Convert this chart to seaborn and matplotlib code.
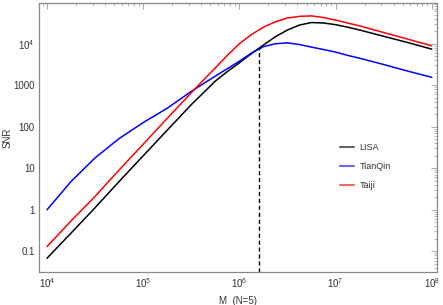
import matplotlib
matplotlib.use("Agg")
import matplotlib.pyplot as plt
import matplotlib.ticker as mticker
import seaborn as sns
import pandas as pd
import numpy as np

# values
mass = [1e4, 1.78e4, 3.16e4, 5.62e4, 1e5, 1.78e5, 3.16e5, 5.62e5,
        7.5e5, 1e6, 1.33e6, 1.78e6, 2.37e6, 3.16e6, 4.22e6, 5.62e6,
        7.5e6, 1e7, 1.33e7, 1.78e7, 3.16e7, 5.62e7, 1e8]
lisa = [0.068, 0.275, 1.12, 4.8, 20, 83, 340, 1260,
        2140, 3470, 5750, 9330, 14800, 21400, 28200, 32400,
        31600, 28800, 25100, 21400, 15100, 10700, 7400]
tianqin = [1.0, 4.8, 17.8, 52, 126, 280, 710, 1660,
           2510, 3800, 5900, 8500, 10000, 10500, 9550, 8300,
           7240, 6300, 5250, 4470, 3160, 2190, 1550]
taiji = [0.13, 0.54, 2.1, 9.1, 38, 160, 660, 2630,
         5250, 10000, 16600, 25100, 33900, 41700, 45700, 46800,
         42700, 37200, 31600, 26900, 18600, 12900, 8900]
detectors = ["LISA", "TianQin", "Taiji"]
colors = ["#000000", "#0000ff", "#ff0000"]

# marker for the LISA / TianQin crossing
cross_mass = 1.6e6
cross_snr = 8000

y_ticks = [0.1, 1, 10, 100, 1000, 1e4]
y_labels = ["0.1", "1", "10", "100", "1000", r"$10^4$"]
x_ticks = [1e4, 1e5, 1e6, 1e7, 1e8]
x_labels = [r"$10^4$", r"$10^5$", r"$10^6$", r"$10^7$", r"$10^8$"]

df = pd.DataFrame({
    "M": mass * 3,
    "SNR": lisa + tianqin + taiji,
    "detector": sum([[d] * len(mass) for d in detectors], []),
})

sns.set_style("white")
plt.rcParams["font.family"] = ["Liberation Sans", "DejaVu Sans"]
plt.rcParams["mathtext.fontset"] = "custom"
plt.rcParams["mathtext.rm"] = "Liberation Sans"
plt.rcParams["mathtext.it"] = "Liberation Sans"

fig = plt.figure(figsize=(4.43, 3.05), dpi=100)
ax = fig.add_axes([0.088, 0.108, 0.898, 0.882])

sns.lineplot(data=df, x="M", y="SNR", hue="detector", hue_order=detectors,
             palette=colors, linewidth=1.1, ax=ax, legend=False)
ax.vlines(cross_mass, 10 ** -1.5, cross_snr, colors="black",
          linestyles=(0, (3, 2)), linewidth=1.0)

ax.set_xscale("log")
ax.set_yscale("log")
ax.set_xlim(10 ** 3.917, 10 ** 8.052)
ax.set_ylim(10 ** -1.5, 10 ** 4.98)

ax.xaxis.set_major_locator(mticker.FixedLocator(x_ticks))
ax.xaxis.set_major_formatter(mticker.FixedFormatter(x_labels))
ax.yaxis.set_major_locator(mticker.FixedLocator(y_ticks))
ax.yaxis.set_major_formatter(mticker.FixedFormatter(y_labels))
ax.xaxis.set_minor_locator(mticker.LogLocator(base=10, subs=np.arange(2, 10)))
ax.yaxis.set_minor_locator(mticker.LogLocator(base=10, subs=np.arange(2, 10)))
ax.xaxis.set_minor_formatter(mticker.NullFormatter())
ax.yaxis.set_minor_formatter(mticker.NullFormatter())

frame = "#888888"
for s in ax.spines.values():
    s.set_color(frame)
    s.set_linewidth(0.9)
ax.tick_params(which="both", direction="in", top=True, right=True,
               color="#999999", labelsize=7, labelcolor="#333333", pad=3)
ax.tick_params(which="major", length=4, width=0.6)
ax.tick_params(which="minor", length=2, width=0.5)

ax.set_xlabel("M  (N=5)", fontsize=7, color="#333333", labelpad=4)
ax.set_ylabel("SNR", fontsize=7, color="#333333")
ax.yaxis.set_label_coords(-0.066, 0.5)

handles = [plt.Line2D([], [], color=c, linewidth=1.5, alpha=0.6) for c in colors]
ax.legend(handles, detectors, loc="upper left", bbox_to_anchor=(0.735, 0.51),
          frameon=False, fontsize=6.5, handlelength=1.6, labelspacing=1.1,
          handletextpad=0.6, labelcolor="#333333")

fig.savefig("out.png", dpi=100)
